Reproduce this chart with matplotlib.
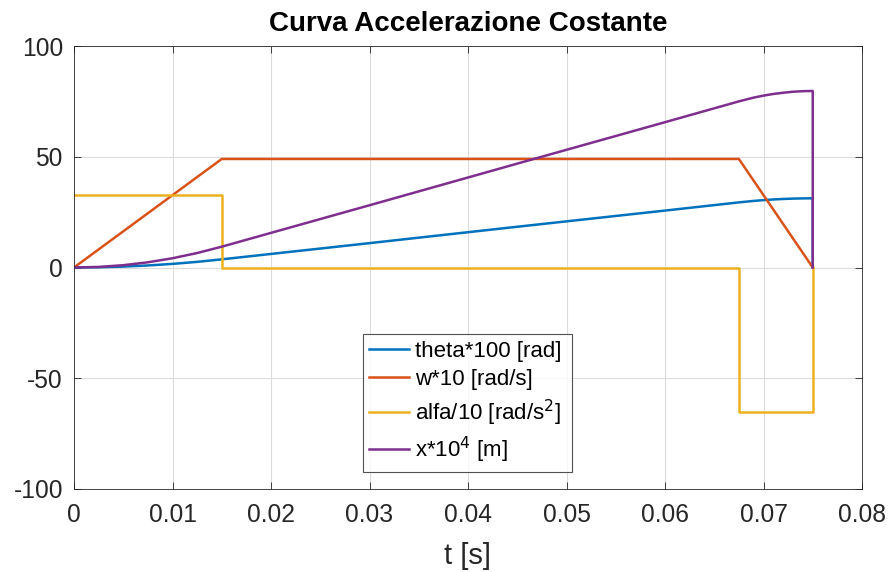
import matplotlib
matplotlib.use("Agg")
import matplotlib.pyplot as plt

plt.rcParams['font.family'] = ['Liberation Sans', 'DejaVu Sans']
plt.rcParams['axes.unicode_minus'] = False

# values
t_theta = [0, 0.0025, 0.005, 0.0075, 0.01, 0.0125, 0.015, 0.03, 0.045, 0.06, 0.0675,
           0.069, 0.07, 0.071, 0.072, 0.073, 0.074, 0.075, 0.075]
theta = [0, 0.10, 0.41, 0.92, 1.63, 2.55, 3.68, 11.0, 18.4, 25.7, 29.4,
         30.06, 30.42, 30.72, 30.94, 31.1, 31.2, 31.24, 0]

t_w = [0, 0.015, 0.0675, 0.075]
w = [0, 49.0, 49.0, 0]

t_alfa = [0, 0.015, 0.015, 0.0675, 0.0675, 0.075, 0.075]
alfa = [32.7, 32.7, 0, 0, -65.4, -65.4, 0]

t_x = [0, 0.0025, 0.005, 0.0075, 0.01, 0.0125, 0.015, 0.03, 0.045, 0.06, 0.0675,
       0.069, 0.07, 0.071, 0.072, 0.073, 0.074, 0.075, 0.075]
x = [0, 0.26, 1.04, 2.35, 4.18, 6.53, 9.4, 28.1, 46.9, 65.6, 75.0,
     76.7, 77.6, 78.35, 78.9, 79.35, 79.6, 79.7, 0]

labels = ['theta*100 [rad]', 'w*10 [rad/s]', 'alfa/10 [rad/s$^2$]', 'x*10$^4$ [m]']
colors = ['#0072BD', '#D95319', '#EDB120', '#7E2F8E']

fig = plt.figure(figsize=(8.89, 5.72), dpi=100)
ax = fig.add_axes([74 / 889, 1 - 489 / 572, 788 / 889, 443 / 572])

series = [(t_theta, theta), (t_w, w), (t_alfa, alfa), (t_x, x)]
for (tt, vv), lab, col in zip(series, labels, colors):
    ax.plot(tt, vv, color=col, linewidth=1.8, label=lab)

ax.set_xlim(0, 0.08)
ax.set_ylim(-100, 100)
ax.set_xticks([0, 0.01, 0.02, 0.03, 0.04, 0.05, 0.06, 0.07, 0.08])
ax.set_xticklabels(['0', '0.01', '0.02', '0.03', '0.04', '0.05', '0.06', '0.07', '0.08'])
ax.set_yticks([-100, -50, 0, 50, 100])
ax.grid(True, color='#dcdcdc', linewidth=0.8)
ax.set_axisbelow(True)
ax.tick_params(direction='in', top=True, right=True, labelsize=17.7, colors='#262626',
               length=5, width=0.6)
ax.tick_params(axis='x', pad=10)
ax.tick_params(axis='y', pad=8)
for s in ax.spines.values():
    s.set_color('#262626')
    s.set_linewidth(0.6)

ax.set_title('Curva Accelerazione Costante', fontsize=20, fontweight='bold', pad=10.5)
ax.set_xlabel('t [s]', fontsize=21, color='#262626', labelpad=11)

leg = ax.legend(loc='lower left', bbox_to_anchor=(0.3664, 0.039, 0.2652, 0.3086), mode='expand',
                fontsize=16, frameon=True, fancybox=False, handlelength=1.8,
                borderpad=0.3, labelspacing=0.33, handletextpad=0.25, borderaxespad=0)
leg.get_frame().set_edgecolor('#262626')
leg.get_frame().set_linewidth(0.8)

fig.savefig('out.png', dpi=100)
